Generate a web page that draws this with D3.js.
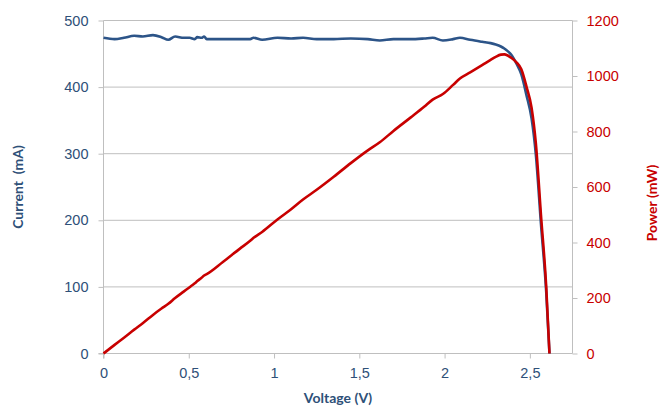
<!DOCTYPE html>
<html><head><meta charset="utf-8">
<script src="https://cdn.jsdelivr.net/npm/d3@7"></script>
<style>body{margin:0;background:#fff;} svg{display:block;font-family:Lato,"Open Sans",sans-serif;}</style>
</head><body>
<svg id="c" width="662" height="407"></svg>
<script>
const voltage = [0,0.065,0.12,0.18,0.23,0.29,0.34,0.38,0.42,0.47,0.505,0.535,0.55,0.575,0.59,0.605,0.7,0.8,0.86,0.88,0.93,1.02,1.1,1.17,1.25,1.35,1.45,1.55,1.62,1.7,1.8,1.88,1.93,1.99,2.05,2.09,2.15,2.22,2.27,2.30,2.33,2.35,2.37,2.39,2.42,2.45,2.48,2.51,2.535,2.565,2.596,2.615];
const current = [474,472,474,477,476,478,475,471,476,474,474,472,475,474,476,472,472,472,472,474,471,474,473,474,472,472,473,472,470,472,472,473,474,470,472,474,471,468,466,464,461,458,454,449,436,419,388,353,299,195,92,0];
const power = [0,31,57,86,109,139,162,179,200,223,239,253,261,273,281,286,330,378,406,417,438,483,520,555,590,637,686,732,761,802,850,889,915,935,968,991,1013,1039,1058,1069,1077,1078,1074,1066,1050,1024,962,886,758,500,239,0];
const xTicks = [0,0.5,1,1.5,2,2.5];
const yTicks = [0,100,200,300,400,500];
const y2Ticks = [0,200,400,600,800,1000,1200];

const blue = "#2C5488", red = "#C80000", labBlue = "#2E5078", grid = "#BFBFBF";
const L = 103.5, R = 572.5, T = 20.5, B = 353.5;
const svg = d3.select("#c");
const x = d3.scaleLinear().domain([0,2.75]).range([L,R]);
const y = d3.scaleLinear().domain([0,500]).range([B,T]);
const y2 = d3.scaleLinear().domain([0,1200]).range([B,T]);

// gridlines
svg.append("g").selectAll("line").data(yTicks.filter(d=>d>0)).join("line")
  .attr("x1",L).attr("x2",R).attr("y1",d=>y(d)).attr("y2",d=>y(d))
  .attr("stroke",grid).attr("stroke-width",1);

// x axis
const gx = svg.append("g").attr("transform",`translate(0,${B})`)
  .call(d3.axisBottom(x).tickValues(xTicks).tickSize(5).tickPadding(9)
    .tickFormat(d=>String(d).replace(".",",")));
gx.select(".domain").attr("stroke",grid).attr("d",`M${L-5},0H${R}`);
gx.selectAll(".tick line").attr("stroke",grid);
gx.selectAll("text").attr("fill",labBlue).attr("font-size",14.5);

// left axis
const gy = svg.append("g").attr("transform",`translate(${L},0)`)
  .call(d3.axisLeft(y).tickValues(yTicks).tickSize(5).tickPadding(10));
gy.select(".domain").attr("stroke",grid).attr("d",`M0,${T}V${B+5}`);
gy.selectAll(".tick line").attr("stroke",grid);
gy.selectAll("text").attr("fill",labBlue).attr("font-size",14.5);

// right axis
const gy2 = svg.append("g").attr("transform",`translate(${R},0)`)
  .call(d3.axisRight(y2).tickValues(y2Ticks).tickSize(5).tickPadding(9).tickFormat(d3.format("d")));
gy2.select(".domain").attr("stroke",grid).attr("d",`M0,${T}V${B}`);
gy2.selectAll(".tick line").attr("stroke",grid);
gy2.selectAll("text").attr("fill",red).attr("font-size",14.5);

// lines
const pts = voltage.map((v,i)=>({v,i:current[i],p:power[i]}));
svg.append("path").datum(pts).attr("fill","none").attr("stroke",blue).attr("stroke-width",2.6)
  .attr("stroke-linejoin","round")
  .attr("d",d3.line().x(d=>x(d.v)).y(d=>y(d.i)).curve(d3.curveMonotoneX));
svg.append("path").datum(pts).attr("fill","none").attr("stroke",red).attr("stroke-width",2.6)
  .attr("stroke-linejoin","round")
  .attr("d",d3.line().x(d=>x(d.v)).y(d=>y2(d.p)).curve(d3.curveMonotoneX));

// titles
svg.append("text").attr("x",338).attr("y",403).attr("text-anchor","middle")
  .attr("font-weight","bold").attr("font-size",14).attr("fill",labBlue).text("Voltage (V)");
svg.append("text").attr("transform","translate(23,187) rotate(-90)").attr("text-anchor","middle")
  .style("white-space","pre")
  .attr("font-weight","bold").attr("font-size",14).attr("fill",labBlue).text("Current  (mA)");
svg.append("text").attr("transform","translate(657,203) rotate(-90)").attr("text-anchor","middle")
  .attr("font-weight","bold").attr("font-size",14).attr("fill",red).text("Power (mW)");
</script>
</body></html>
